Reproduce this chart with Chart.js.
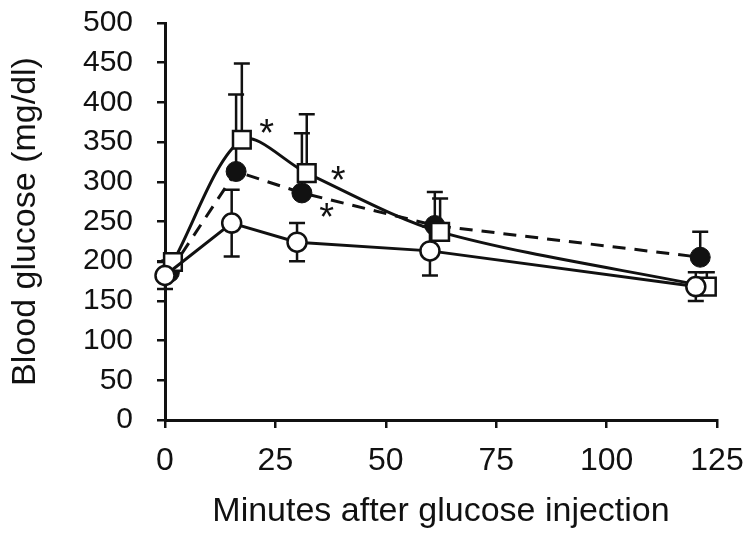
<!DOCTYPE html>
<html>
<head>
<meta charset="utf-8">
<script src="https://cdn.jsdelivr.net/npm/chart.js@4.4.1/dist/chart.umd.min.js"></script>
<style>
    body { margin: 0; background: #fff; }
    #wrap { width: 750px; height: 537px; }
</style>
</head>
<body>
<div id="wrap"><canvas id="glucoseChart" width="750" height="537"></canvas></div>
<script>
// Data (time points are slightly shifted per group, like in the original figure)
const openTimes = [0, 15.1, 29.9, 60, 120.2];
const openValues = [182, 248, 224, 213, 168];
const openErrors = [17, 42, 24, 31, 18];

const filledTimes = [1, 16.1, 31, 61.1, 121.2];
const filledValues = [186, 313, 286, 245, 205];
const filledErrors = [15, 97, 75, 42, 32];

const squareTimes = [1.8, 17.4, 32.1, 62.3, 122.7];
const squareValues = [199, 353, 311, 237, 168];
const squareErrors = [10, 96, 74, 42, 18];

// Significance marks
const starTimes = [23.0, 39.2, 36.6];
const starValues = [373, 313, 267];

const xTicks = [0, 25, 50, 75, 100, 125];
const yTicks = [0, 50, 100, 150, 200, 250, 300, 350, 400, 450, 500];

const INK = '#111';
const FONT = '"Liberation Sans", Arial, sans-serif';

function toPoints(times, values) {
    return times.map((t, i) => ({ x: t, y: values[i] }));
}

// Error bars: open circles both ways, the others only upward
const errorBars = {
    id: 'errorBars',
    beforeDatasetsDraw(chart) {
        const ctx = chart.ctx;
        const xs = chart.scales.x;
        const ys = chart.scales.y;
        const groups = [
            { times: openTimes, values: openValues, errors: openErrors, down: true },
            { times: filledTimes, values: filledValues, errors: filledErrors, down: false },
            { times: squareTimes, values: squareValues, errors: squareErrors, down: false }
        ];
        ctx.save();
        ctx.strokeStyle = INK;
        ctx.lineWidth = 2.5;
        groups.forEach(g => {
            g.times.forEach((t, i) => {
                const px = xs.getPixelForValue(t);
                const py = ys.getPixelForValue(g.values[i]);
                const top = ys.getPixelForValue(g.values[i] + g.errors[i]);
                const bottom = g.down ? ys.getPixelForValue(g.values[i] - g.errors[i]) : py;
                ctx.beginPath();
                ctx.moveTo(px, top);
                ctx.lineTo(px, bottom);
                ctx.moveTo(px - 8, top);
                ctx.lineTo(px + 8, top);
                if (g.down) {
                    ctx.moveTo(px - 8, bottom);
                    ctx.lineTo(px + 8, bottom);
                }
                ctx.stroke();
            });
        });
        ctx.restore();
    },
    afterDatasetsDraw(chart) {
        const ctx = chart.ctx;
        const xs = chart.scales.x;
        const ys = chart.scales.y;
        ctx.save();
        ctx.fillStyle = INK;
        ctx.font = '38px ' + FONT;
        ctx.textAlign = 'center';
        ctx.textBaseline = 'alphabetic';
        starTimes.forEach((t, i) => {
            ctx.fillText('*', xs.getPixelForValue(t), ys.getPixelForValue(starValues[i]) + 22);
        });
        ctx.restore();
    }
};

const ctx = document.getElementById('glucoseChart').getContext('2d');

new Chart(ctx, {
    type: 'scatter',
    data: {
        datasets: [
            {
                label: 'open',
                data: toPoints(openTimes, openValues),
                showLine: true,
                borderColor: INK,
                borderWidth: 3,
                pointStyle: 'circle',
                pointRadius: 9.5,
                pointBorderWidth: 2.5,
                pointBackgroundColor: '#fff',
                pointBorderColor: INK,
                clip: false
            },
            {
                label: 'square',
                data: toPoints(squareTimes, squareValues),
                showLine: true,
                tension: 0.3,
                borderColor: INK,
                borderWidth: 3,
                pointStyle: 'rect',
                pointRadius: 12.5,
                pointBorderWidth: 2.5,
                pointBackgroundColor: '#fff',
                pointBorderColor: INK,
                clip: false
            },
            {
                label: 'filled',
                data: toPoints(filledTimes, filledValues),
                showLine: true,
                borderColor: INK,
                borderWidth: 3,
                borderDash: [13, 9],
                pointStyle: 'circle',
                pointRadius: 10,
                pointBorderWidth: 1,
                pointBackgroundColor: INK,
                pointBorderColor: INK,
                clip: false
            }
        ]
    },
    options: {
        responsive: false,
        animation: false,
        layout: { padding: { top: 23, right: 33, bottom: 0, left: 0 } },
        plugins: {
            legend: { display: false },
            tooltip: { enabled: false }
        },
        scales: {
            x: {
                type: 'linear',
                min: 0,
                max: 125,
                afterBuildTicks: scale => { scale.ticks = xTicks.map(v => ({ value: v })); },
                afterFit: scale => {
                    scale.height = 117;
                    scale.paddingLeft = 0;
                    scale.paddingRight = 0;
                },
                border: { display: true, color: INK, width: 3 },
                grid: { display: true, drawOnChartArea: false, drawTicks: true, tickLength: 8, lineWidth: 2.5, color: INK },
                ticks: {
                    color: INK,
                    padding: 14,
                    maxRotation: 0,
                    autoSkip: false,
                    font: { family: FONT, size: 32 }
                },
                title: {
                    display: true,
                    text: 'Minutes after glucose injection',
                    color: INK,
                    padding: { top: 0, bottom: 5 },
                    font: { family: FONT, size: 34 }
                }
            },
            y: {
                type: 'linear',
                min: 0,
                max: 500,
                afterBuildTicks: scale => { scale.ticks = yTicks.map(v => ({ value: v })); },
                afterFit: scale => {
                    scale.width = 165;
                    scale.paddingTop = 0;
                    scale.paddingBottom = 0;
                },
                border: { display: true, color: INK, width: 3 },
                grid: { display: true, drawOnChartArea: false, drawTicks: true, tickLength: 8, lineWidth: 2.5, color: INK },
                ticks: {
                    color: INK,
                    padding: 24,
                    autoSkip: false,
                    font: { family: FONT, size: 30 }
                },
                title: {
                    display: true,
                    text: 'Blood glucose (mg/dl)',
                    color: INK,
                    padding: { top: 5, bottom: 0 },
                    font: { family: FONT, size: 34 }
                }
            }
        }
    },
    plugins: [errorBars]
});
</script>
</body>
</html>
